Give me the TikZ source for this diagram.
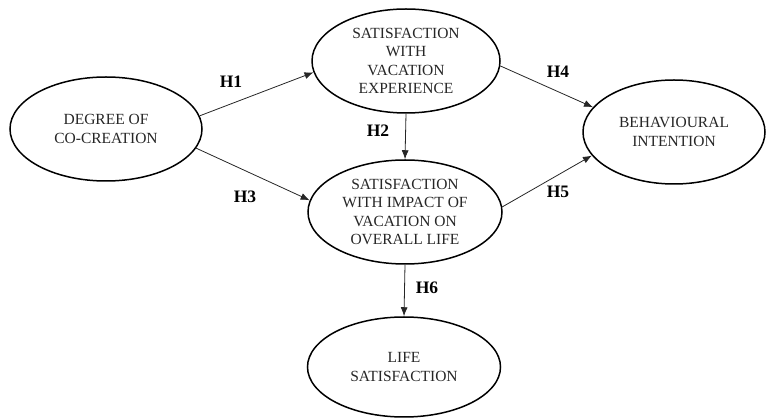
\documentclass[tikz,border=0pt]{standalone}
\usepackage{fontspec}
\setmainfont{Liberation Serif}
\usetikzlibrary{shapes.geometric,arrows.meta}
\begin{document}
\begin{tikzpicture}[x=1pt,y=-1pt,
  construct/.style={draw=black,line width=1.5pt,ellipse,inner sep=0pt,align=center,
    font=\fontsize{15.5}{18.5}\selectfont,text=black!85},
  path/.style={draw=black!85,line width=0.8pt,-{Latex[length=9pt,width=7pt]}},
  hyp/.style={font=\fontsize{17.5}{20}\selectfont\bfseries,inner sep=0pt}]
\useasboundingbox (0,0) rectangle (766,419);
\node[construct,minimum width=192pt,minimum height=104pt] (cocr) at (106,129) {DEGREE OF\\CO-CREATION};
\node[construct,minimum width=188pt,minimum height=104pt] (svac) at (406,61) {SATISFACTION\\WITH\\VACATION\\EXPERIENCE};
\node[construct,minimum width=194pt,minimum height=104pt] (simp) at (405,212) {SATISFACTION\\WITH IMPACT OF\\VACATION ON\\OVERALL LIFE};
\node[construct,minimum width=193pt,minimum height=100pt] (life) at (404,367) {LIFE\\SATISFACTION};
\node[construct,minimum width=182pt,minimum height=104pt] (behv) at (674,132) {BEHAVIOURAL\\INTENTION};
\draw[path] (cocr.8) -- (svac.187);
\draw[path] (cocr.-12) -- (simp.173);
\draw[path] (svac.south) -- (simp.north);
\draw[path] (svac.-3) -- (behv.163);
\draw[path] (simp.3) -- (behv.196);
\draw[path] (simp.south) -- (life.north);
\node[hyp] (h1) at (231,82) {H1};
\node[hyp] (h2) at (378,131) {H2};
\node[hyp] (h3) at (245,197) {H3};
\node[hyp] (h4) at (558,72) {H4};
\node[hyp] (h5) at (558,192) {H5};
\node[hyp] (h6) at (427,288) {H6};
\end{tikzpicture}
\end{document}
